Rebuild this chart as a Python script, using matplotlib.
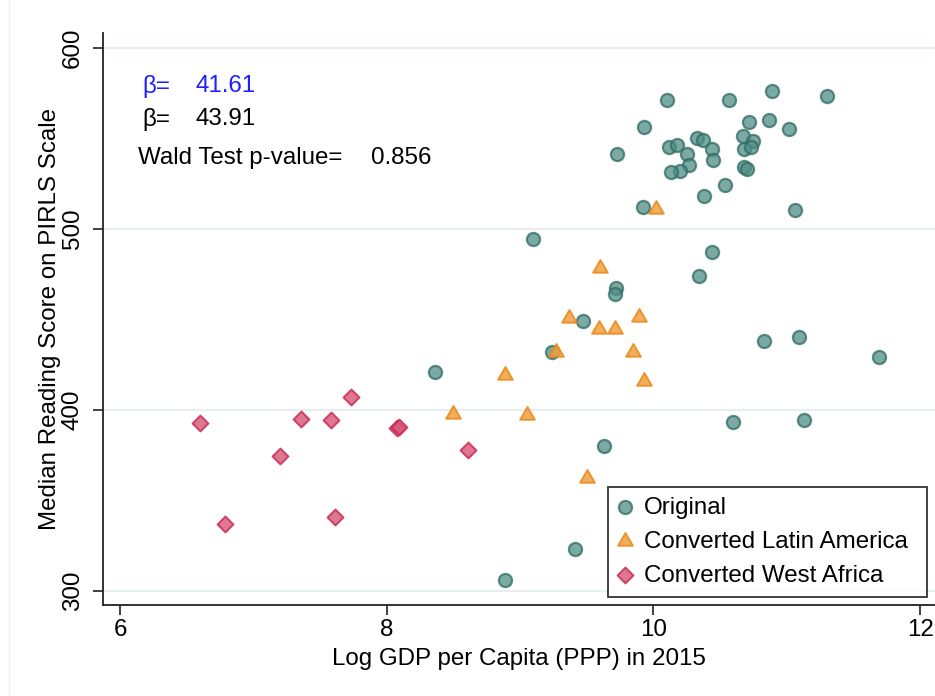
import matplotlib
matplotlib.use("Agg")
import matplotlib.pyplot as plt
from matplotlib.lines import Line2D

plt.rcParams['font.family'] = ['Liberation Sans', 'DejaVu Sans']

# ---- data ----
orig_x = [10.10, 10.57, 10.89, 11.30, 9.93, 10.72, 10.87, 11.02, 10.33, 10.37,
          10.12, 10.18, 10.25, 10.44, 10.67, 10.75, 10.68, 10.73, 10.45, 10.27,
          10.20, 10.13, 10.68, 10.70, 10.54, 10.38, 9.92, 11.06, 9.73, 9.10,
          10.44, 10.34, 9.72, 9.71, 9.47, 9.24, 8.36, 10.83, 11.09, 11.69,
          10.60, 11.13, 9.63, 9.41, 8.89]
orig_y = [571.1, 571.1, 576.1, 573.1, 556.2, 558.9, 560.1, 555.1, 549.9, 549.0,
          545.0, 546.1, 541.1, 544.0, 551.2, 548.3, 544.0, 545.1, 538.0, 535.0,
          532.0, 531.2, 534.1, 533.0, 524.0, 518.1, 512.2, 510.2, 541.1, 494.1,
          487.0, 474.0, 467.2, 463.9, 449.0, 432.0, 421.0, 438.0, 440.0, 429.1,
          393.0, 394.1, 379.9, 323.0, 306.1]

latam_x = [10.02, 9.60, 9.37, 9.89, 9.59, 9.71, 9.27, 9.85, 8.89, 9.93,
           8.50, 9.05, 9.50]
latam_y = [510.7, 478.5, 450.5, 451.2, 444.4, 444.4, 432.0, 432.0, 419.4, 415.6,
           397.5, 396.9, 362.1]

wafr_x = [7.73, 6.60, 7.36, 7.58, 8.08, 8.09, 8.61, 7.20, 6.79, 7.61]
wafr_y = [406.8, 392.5, 395.0, 394.1, 389.7, 390.6, 377.9, 374.4, 336.9, 340.7]

labels = ["Original", "Converted Latin America", "Converted West Africa"]
beta1, beta2, wald_p = "41.61", "43.91", "0.856"
xticks = [6, 8, 10, 12]
yticks = [300, 400, 500, 600]

FS = 17.4

# ---- figure ----
W, H = 935, 696
fig = plt.figure(figsize=(W / 100, H / 100), dpi=100)
ax = fig.add_axes([103 / W, (H - 605) / H, (W - 103) / W, (605 - 33) / H])

ax.set_xlim(5.872, 12.112)
ax.set_ylim(292.1, 608.1)

for yt in yticks:
    ax.axhline(yt, color='#e6eef1', lw=1.6, zorder=0)

ax.scatter(orig_x, orig_y, s=90, marker='o', facecolor='#4f8d84', edgecolor='#2f6c62',
           linewidths=1.6, alpha=0.75, zorder=3, label=labels[0])
ax.scatter(latam_x, latam_y, s=150, marker=(3, 0, 0), facecolor='#f0a040', edgecolor='#e8891a',
           linewidths=1.4, alpha=0.85, zorder=3, label=labels[1])
ax.scatter(wafr_x, wafr_y, s=66, marker='D', facecolor='#d65577', edgecolor='#c9244c',
           linewidths=1.4, alpha=0.8, zorder=3, label=labels[2])

for s in ['top', 'right']:
    ax.spines[s].set_visible(False)
for s in ['left', 'bottom']:
    ax.spines[s].set_linewidth(1.3)
    ax.spines[s].set_color('#222222')

ax.set_xticks(xticks)
ax.set_yticks(yticks)
ax.tick_params(axis='both', direction='out', length=7, width=1.3, color='#333333',
               labelsize=FS)
ax.tick_params(axis='x', pad=3)
ax.tick_params(axis='y', pad=7)
for lab in ax.get_yticklabels():
    lab.set_rotation(90)
    lab.set_va('center')

ax.set_xlabel("Log GDP per Capita (PPP) in 2015", fontsize=FS, labelpad=5)
ax.set_ylabel("Median Reading Score on PIRLS Scale", fontsize=FS, labelpad=0.5)

# annotations
ax.text(0.047, 0.907, "β=", color='#1f1fff', fontsize=FS, va='center', transform=ax.transAxes)
ax.text(0.1106, 0.907, beta1, color='#1f1fff', fontsize=FS, va='center', transform=ax.transAxes)
ax.text(0.047, 0.849, "β=", color='black', fontsize=FS, va='center', transform=ax.transAxes)
ax.text(0.1106, 0.849, beta2, color='black', fontsize=FS, va='center', transform=ax.transAxes)
ax.text(0.0417, 0.781, "Wald Test p-value=", color='black', fontsize=FS, va='center',
        transform=ax.transAxes)
ax.text(0.322, 0.781, wald_p, color='black', fontsize=FS, va='center', transform=ax.transAxes)

leg = ax.legend(loc='lower left', bbox_to_anchor=(0.607, 0.014, 0.383, 0.19), mode='expand',
                fontsize=FS, frameon=True, fancybox=False, borderaxespad=0.0,
                handletextpad=0.45, labelspacing=0.5, borderpad=0.42,
                handlelength=0.6, scatterpoints=1)
leg.get_frame().set_edgecolor('black')
leg.get_frame().set_linewidth(1.3)

# faint outer frame line on the left
fig.add_artist(Line2D([8.5 / W, 8.5 / W], [0, 1], color='#e8eff2', lw=1.0))

fig.savefig("out.png", dpi=100)
